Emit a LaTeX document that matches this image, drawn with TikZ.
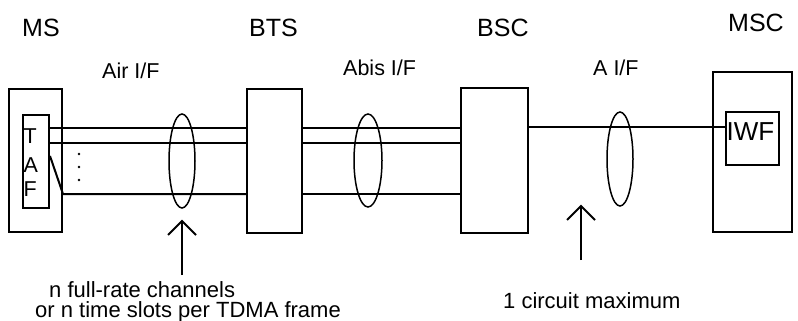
\documentclass[tikz,border=0pt]{standalone}
\usepackage{fontspec}
\setmainfont{Liberation Sans}
\usetikzlibrary{shapes.geometric}
\begin{document}
\begin{tikzpicture}[x=1pt,y=-1pt,
  box/.style={draw, line width=2pt, rectangle, inner sep=0pt},
  oval/.style={draw, line width=1.5pt, ellipse, inner sep=0pt},
  wire/.style={line width=2pt},
  pointer/.style={line width=2pt},
  lbl/.style={inner sep=0pt, anchor=base west, font=\fontsize{25}{30}\selectfont},
  iflbl/.style={inner sep=0pt, anchor=base west, font=\fontsize{21.5}{26}\selectfont},
  note/.style={inner sep=0pt, anchor=base west, font=\fontsize{22}{26}\selectfont},
  letter/.style={inner sep=0pt, anchor=base west, font=\fontsize{21.5}{26}\selectfont}]
\useasboundingbox (0,0) rectangle (798,321);
\fill[white] (0,0) rectangle (798,321);

% boxes
\node[box, minimum width=53pt, minimum height=143pt] (ms) at (35.5,160.5) {};
\node[box, minimum width=26pt, minimum height=93pt] (taf) at (36,161.5) {};
\node[box, minimum width=55pt, minimum height=144pt] (bts) at (274.5,161) {};
\node[box, minimum width=67pt, minimum height=145pt] (bsc) at (494.5,160.5) {};
\node[box, minimum width=79pt, minimum height=160pt] (msc) at (752.5,152) {};
\node[box, minimum width=53pt, minimum height=53pt] (iwf) at (752.5,138.5) {};

% labels
\node[lbl] (lms) at (22,37) {MS};
\node[lbl] (lbts) at (249,37) {BTS};
\node[lbl] (lbsc) at (477,37) {BSC};
\node[lbl] (lmsc) at (728,32) {MSC};
\node[iflbl] (lair) at (102,78) {Air I/F};
\node[iflbl] (labis) at (343,75) {Abis I/F};
\node[iflbl] (la) at (593,75) {A I/F};

\node[letter] (tt) at (23.5,143) {T};
\node[letter] (ta) at (23.5,172) {A};
\node[letter] (tf) at (23.5,196) {F};
\node[inner sep=0pt, anchor=base west, font=\fontsize{26}{30}\selectfont] (tiwf) at (726.5,140) {IWF};

% wire levels
\coordinate (l1) at (0,128);
\coordinate (l2) at (0,142.5);
\coordinate (l3) at (0,194);
\coordinate (ld) at (0,156);
\coordinate (la1) at (0,127);

% Air interface
\draw[wire] (taf.east |- l1) -- (bts.west |- l1);
\draw[wire] (taf.east |- l2) -- (bts.west |- l2);
\draw[wire] (taf.east |- ld) -- (ms.east |- l3) -- (bts.west |- l3);
% Abis
\draw[wire] (bts.east |- l1) -- (bsc.west |- l1);
\draw[wire] (bts.east |- l2) -- (bsc.west |- l2);
\draw[wire] (bts.east |- l3) -- (bsc.west |- l3);
% A
\draw[wire] (bsc.east |- la1) -- (iwf.west |- la1);

% dots
\fill (79,154) circle (1.4pt);
\fill (79,167) circle (1.4pt);
\fill (79,180) circle (1.4pt);

% ellipses
\node[oval, minimum width=26pt, minimum height=94pt] (eair) at (182,161) {};
\node[oval, minimum width=28pt, minimum height=93pt] (eabis) at (368,160.5) {};
\node[oval, minimum width=26pt, minimum height=94pt] (ea) at (620,159) {};

% pointers
\coordinate (p1tip) at (182,221);
\coordinate (p1tail) at (182,275);
\draw[pointer] (p1tail) -- (p1tip);
\draw[pointer] (168,235) -- (p1tip) -- (196,235);
\coordinate (p2tip) at (581,206);
\coordinate (p2tail) at (581,260);
\draw[pointer] (p2tail) -- (p2tip);
\draw[pointer] (567,220) -- (p2tip) -- (595,220);

% notes
\node[note] (n1) at (49,297) {n full-rate channels};
\node[note] (n2) at (35,317) {or n time slots per TDMA frame};
\node[note] (n3) at (503,308) {1 circuit maximum};
\end{tikzpicture}
\end{document}
